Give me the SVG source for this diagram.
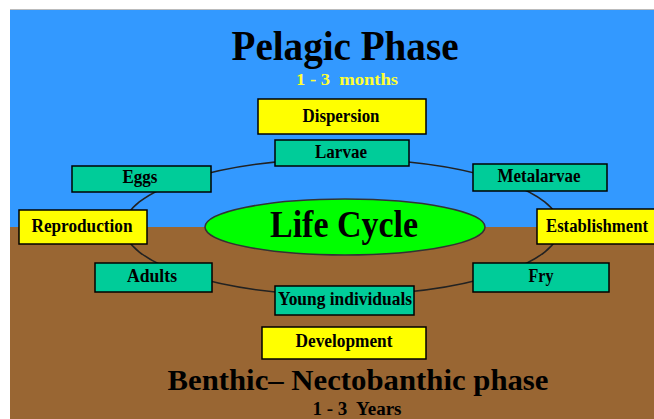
<svg xmlns="http://www.w3.org/2000/svg" width="654" height="419" viewBox="0 0 654 419">
  <style>
    .t { font-family: "Liberation Serif", "Times New Roman", serif; font-weight: bold; fill: #000; text-anchor: middle; }
    .box { stroke: #000; stroke-width: 1.5; }
    .teal { fill: #00CC99; }
    .yel { fill: #FFFF00; }
    .lbl { font-size: 18px; }
  </style>
  <rect x="0" y="0" width="654" height="419" fill="#FFFFFF"/>
  <g id="background">
    <rect x="10" y="9.5" width="644" height="218" fill="#3399FF"/>
    <rect x="10" y="227" width="644" height="192" fill="#996633"/>
    <line x1="10" y1="9.5" x2="654" y2="9.5" stroke="#BBBBBB" stroke-width="1"/>
  </g>
  <g id="connectors">
    <ellipse cx="342" cy="227" rx="218" ry="68" fill="none" stroke="#222222" stroke-width="1.6"/>
  </g>
  <g id="titles">
    <text class="t" x="345" y="60" font-size="42" textLength="227" lengthAdjust="spacingAndGlyphs">Pelagic Phase</text>
    <text class="t" x="347" y="85" font-size="17" style="fill:#FFFF33" xml:space="preserve" textLength="102" lengthAdjust="spacingAndGlyphs">1 - 3  months</text>
    <text class="t" x="358" y="390" font-size="30" textLength="381" lengthAdjust="spacingAndGlyphs">Benthic– Nectobanthic phase</text>
    <text class="t" x="357" y="415" font-size="18" xml:space="preserve" textLength="89" lengthAdjust="spacingAndGlyphs">1 - 3  Years</text>
  </g>
  <g id="dispersion">
    <rect class="box yel" x="258" y="99" width="168" height="35"/>
    <text class="t lbl" x="341" y="122" textLength="77" lengthAdjust="spacingAndGlyphs">Dispersion</text>
  </g>
  <g id="larvae">
    <rect class="box teal" x="275" y="140" width="134" height="26"/>
    <text class="t lbl" x="341" y="158" textLength="52" lengthAdjust="spacingAndGlyphs">Larvae</text>
  </g>
  <g id="eggs">
    <rect class="box teal" x="72" y="166" width="139" height="26"/>
    <text class="t lbl" x="140" y="183" textLength="35" lengthAdjust="spacingAndGlyphs">Eggs</text>
  </g>
  <g id="metalarvae">
    <rect class="box teal" x="473" y="164" width="134" height="27"/>
    <text class="t lbl" x="539" y="182" textLength="83" lengthAdjust="spacingAndGlyphs">Metalarvae</text>
  </g>
  <g id="reproduction">
    <rect class="box yel" x="19" y="210" width="128" height="34"/>
    <text class="t lbl" x="82" y="232" textLength="101" lengthAdjust="spacingAndGlyphs">Reproduction</text>
  </g>
  <g id="establishment">
    <rect class="yel" x="537" y="209" width="117" height="35"/>
    <path d="M654 209 H537 V244 H654" fill="none" stroke="#000" stroke-width="1.5"/>
    <text class="t lbl" x="597" y="232" textLength="102" lengthAdjust="spacingAndGlyphs">Establishment</text>
  </g>
  <g id="life-cycle">
    <ellipse cx="345" cy="227" rx="140" ry="28" fill="#00FF00" stroke="#333333" stroke-width="1.5"/>
    <text class="t" x="344" y="237" font-size="37" textLength="148" lengthAdjust="spacingAndGlyphs">Life Cycle</text>
  </g>
  <g id="adults">
    <rect class="box teal" x="95" y="263" width="117" height="29"/>
    <text class="t lbl" x="152" y="282" textLength="50" lengthAdjust="spacingAndGlyphs">Adults</text>
  </g>
  <g id="fry">
    <rect class="box teal" x="473" y="263" width="136" height="29"/>
    <text class="t lbl" x="541" y="282" textLength="25" lengthAdjust="spacingAndGlyphs">Fry</text>
  </g>
  <g id="young-individuals">
    <rect class="box teal" x="275" y="286" width="139" height="29"/>
    <text class="t lbl" x="345" y="305" textLength="134" lengthAdjust="spacingAndGlyphs">Young individuals</text>
  </g>
  <g id="development">
    <rect class="box yel" x="262" y="327" width="164" height="32"/>
    <text class="t lbl" x="344" y="347" textLength="97" lengthAdjust="spacingAndGlyphs">Development</text>
  </g>
</svg>
